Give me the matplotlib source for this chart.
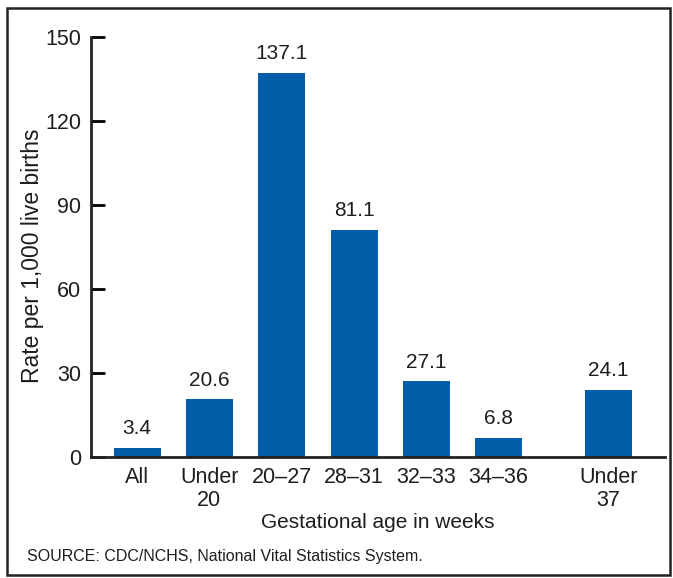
import matplotlib
matplotlib.use("Agg")
import matplotlib.pyplot as plt
from matplotlib.patches import Rectangle

categories = ["All", "Under\n20", "20\u201327", "28\u201331", "32\u201333", "34\u201336", "Under\n37"]
positions = [0, 1, 2, 3, 4, 5, 6.52]
rates = [3.4, 20.6, 137.1, 81.1, 27.1, 6.8, 24.1]
yticks = [0, 30, 60, 90, 120, 150]

plt.rcParams['font.family'] = ['Liberation Sans', 'DejaVu Sans']

fig = plt.figure(figsize=(6.73, 5.78), dpi=100)
ax = fig.add_axes([0.135, 0.209, 0.853, 0.727])

bar_color = '#035DA9'
txt = '#1e1e1e'
ax.bar(positions, rates, width=0.65, color=bar_color)
for x, v in zip(positions, rates):
    ax.annotate('%.1f' % v, (x, v), xytext=(0, 7), textcoords='offset points',
                ha='center', va='bottom', fontsize=15, color=txt)

ax.set_xlim(-0.64, 7.3)
ax.set_ylim(0, 150)
ax.set_yticks(yticks)
ax.set_xticks(positions)
ax.set_xticklabels(categories, fontsize=15.5, color=txt, linespacing=1.1)
ax.tick_params(axis='y', direction='in', length=10, width=2, labelsize=15.5,
               labelcolor=txt, pad=7)
ax.tick_params(axis='x', length=0, pad=7)

for s in ['top', 'right']:
    ax.spines[s].set_visible(False)
for s in ['left', 'bottom']:
    ax.spines[s].set_linewidth(2)
    ax.spines[s].set_color('#222222')

ax.set_ylabel('Rate per 1,000 live births', fontsize=16.5, color=txt)
ax.yaxis.set_label_coords(-0.082, 0.48)
ax.set_xlabel('Gestational age in weeks', fontsize=15, color=txt, labelpad=2)

fig.text(27 / 673, 1 - 557 / 578, 'SOURCE: CDC/NCHS, National Vital Statistics System.',
         fontsize=11.5, color=txt, va='center', ha='left')

fig.patches.append(Rectangle((7 / 673, 1 - 575 / 578), 663 / 673, 567 / 578,
                             transform=fig.transFigure, fill=False,
                             edgecolor='#222222', linewidth=1.8))

fig.savefig('out.png', dpi=100)
